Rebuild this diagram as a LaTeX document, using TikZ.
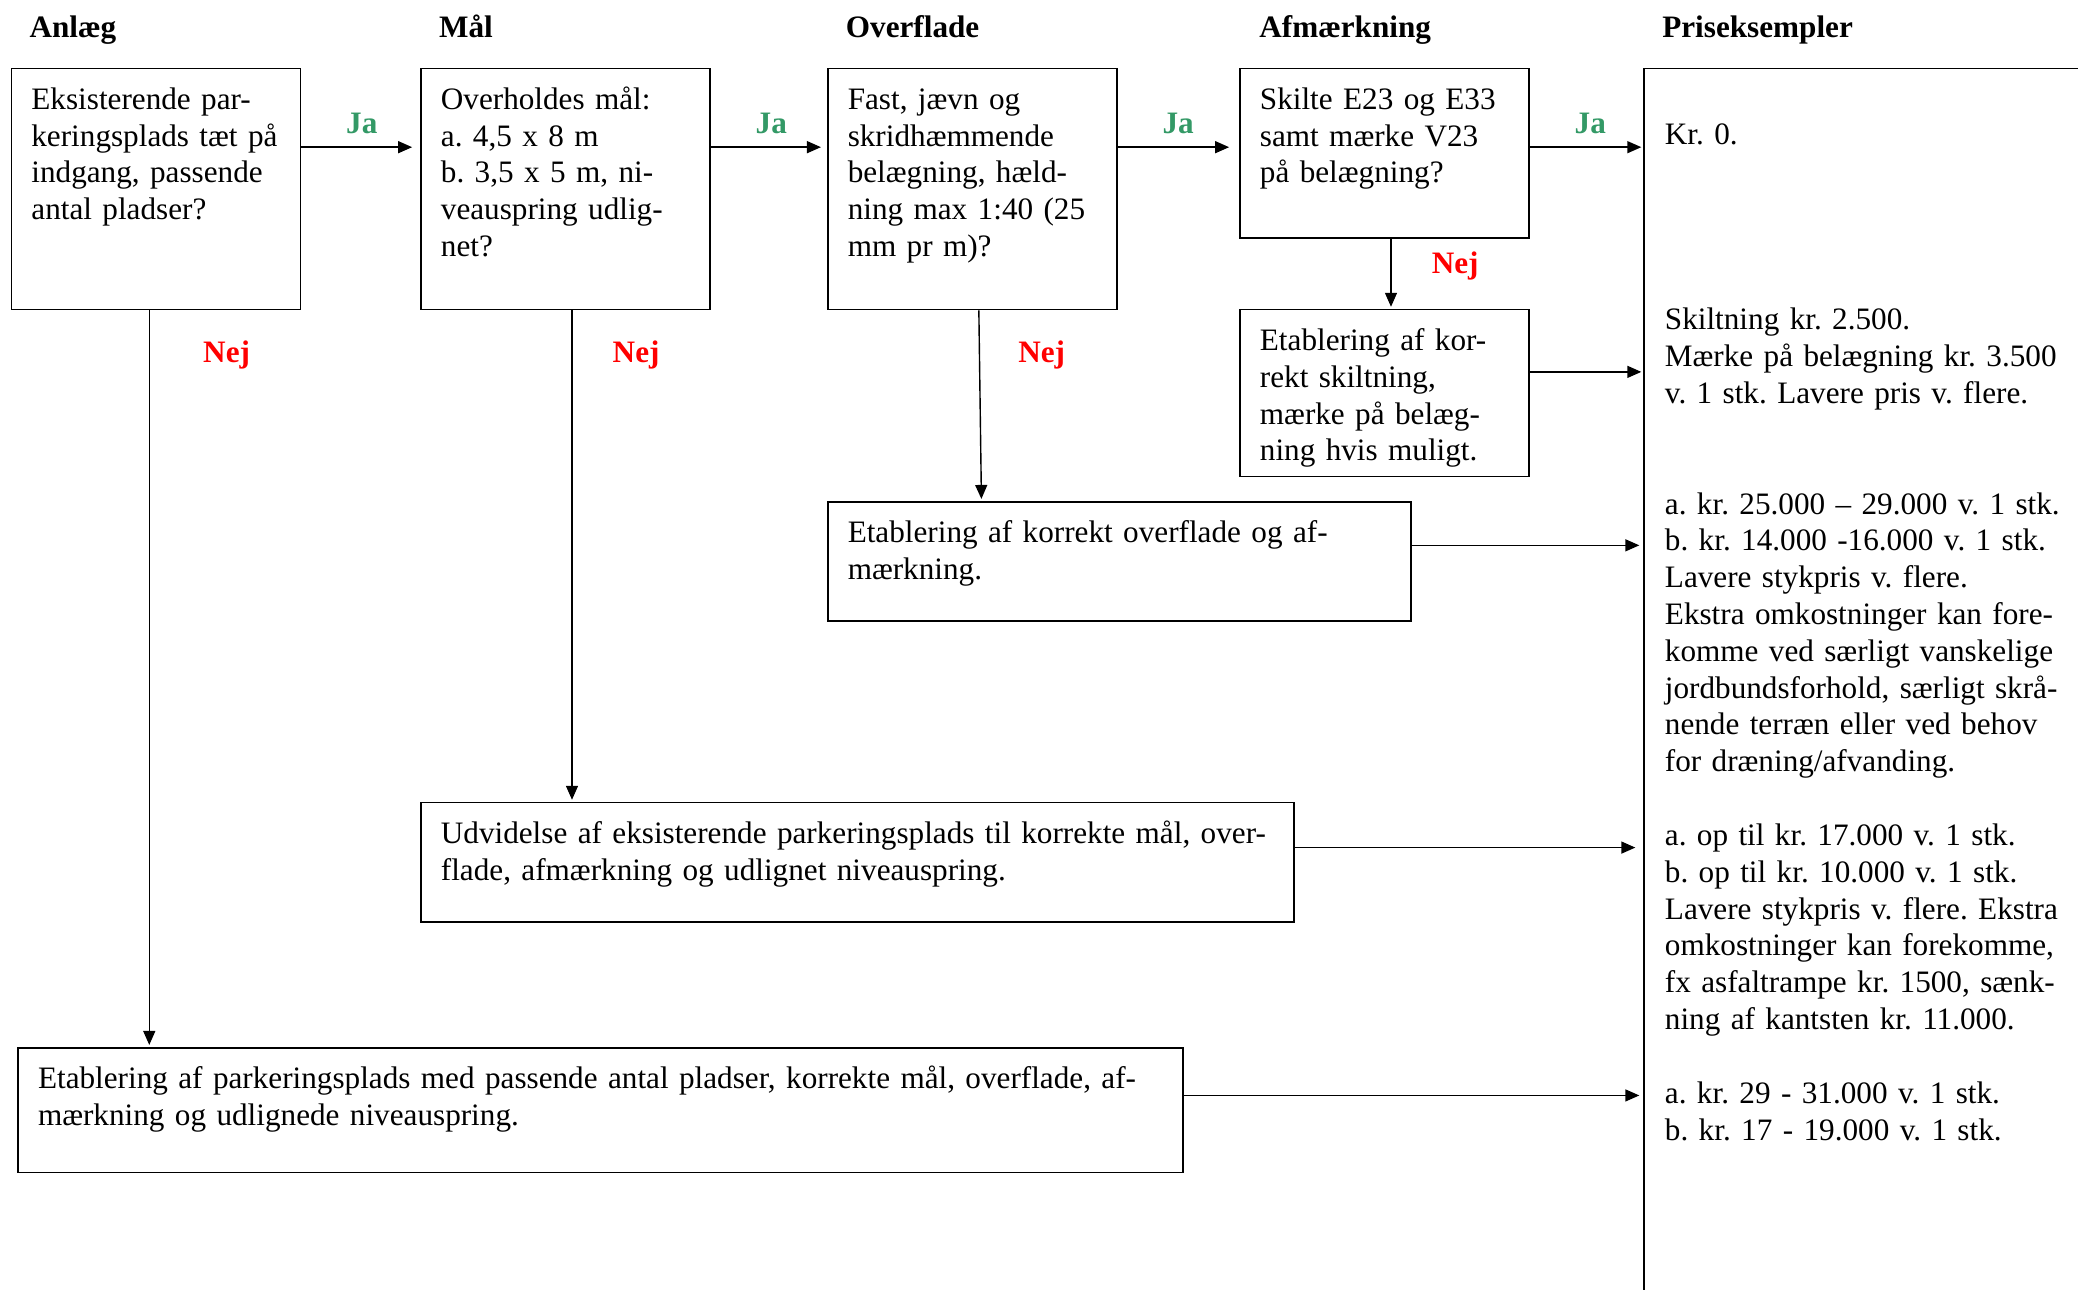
\documentclass[tikz,border=0pt]{standalone}
\usepackage{fontspec}
\setmainfont{Liberation Serif}
\usetikzlibrary{arrows.meta}
\definecolor{jagreen}{RGB}{51,153,102}
\definecolor{nejred}{RGB}{255,0,0}
\frenchspacing
\newcommand{\stor}{\fontsize{15.6}{18.4}\selectfont}

\tikzset{
  boks/.style={draw, line width=0.8pt, anchor=north west, align=left, font=\stor, inner xsep=10pt, inner ysep=8.5pt, text height=12pt},
  pil/.style={-{Triangle[length=7pt,width=6pt]}, line width=0.7pt, shorten >=1pt},
  ja/.style={font=\stor\bfseries, text=jagreen},
  nej/.style={font=\stor\bfseries, text=nejred},
  titel/.style={font=\stor\bfseries, anchor=base west, inner sep=0pt},
  pris/.style={anchor=base west, align=left, font=\stor, inner sep=0pt, text width=215pt}
}

\begin{document}
\begin{tikzpicture}[x=0.6627pt, y=-0.6627pt]
\useasboundingbox (0,0) rectangle (1568,973);

% overskrifter
\node[titel] (tanlaeg) at (22,28) {Anlæg};
\node[titel] (tmaal) at (331,28) {Mål};
\node[titel] (toverflade) at (638,28) {Overflade};
\node[titel] (tafm) at (950,28) {Afmærkning};
\node[titel] (tpris) at (1254,28) {Priseksempler};

% spoergsmaal
\node[boks, text width=124.5pt, text depth=91.6pt] (anlaeg) at (8,51) {Eksisterende par-\\keringsplads tæt på\\indgang, passende\\antal pladser?};
\node[boks, text width=124.5pt, text depth=91.6pt] (maal) at (317,51) {Overholdes mål:\\a. 4,5 x 8 m\\b. 3,5 x 5 m, ni-\\veauspring udlig-\\net?};
\node[boks, text width=124.5pt, text depth=91.6pt] (overflade) at (624,51) {Fast, jævn og\\skridhæmmende\\belægning, hæld-\\ning max 1:40 (25\\mm pr m)?};
\node[boks, text width=124.5pt, text depth=55.8pt] (afm) at (935,51) {Skilte E23 og E33\\samt mærke V23\\på belægning?};

% tiltag
\node[boks, text width=124.5pt, text depth=54.5pt] (afm2) at (935,233) {Etablering af kor-\\rekt skiltning,\\mærke på belæg-\\ning hvis muligt.};
\node[boks, text width=271.6pt, text depth=30.6pt] (overflade2) at (624,378) {Etablering af korrekt overflade og af-\\mærkning.};
\node[boks, text width=416.7pt, text depth=30.6pt] (maal2) at (317,605) {Udvidelse af eksisterende parkeringsplads til korrekte mål, over-\\flade, afmærkning og udlignet niveauspring.};
\node[boks, text width=562.5pt, text depth=33.3pt] (anlaeg2) at (13,790) {Etablering af parkeringsplads med passende antal pladser, korrekte mål, overflade, af-\\mærkning og udlignede niveauspring.};

% priser
\node[draw, line width=0.8pt, anchor=north west, minimum width=240pt, minimum height=630pt] (prisboks) at (1240,51) {};
\node[pris] (p1) at (1256,109) {Kr. 0.};
\node[pris] (p2) at (1256,249) {Skiltning kr. 2.500.\\Mærke på belægning kr. 3.500\\v. 1 stk. Lavere pris v. flere.};
\node[pris] (p3) at (1256,388) {a. kr. 25.000 – 29.000 v. 1 stk.\\b. kr. 14.000 -16.000 v. 1 stk.\\Lavere stykpris v. flere.\\Ekstra omkostninger kan fore-\\komme ved særligt vanskelige\\jordbundsforhold, særligt skrå-\\nende terræn eller ved behov\\for dræning/afvanding.};
\node[pris] (p4) at (1256,638) {a. op til kr. 17.000 v. 1 stk.\\b. op til kr. 10.000 v. 1 stk.\\Lavere stykpris v. flere. Ekstra\\omkostninger kan forekomme,\\fx asfaltrampe kr. 1500, sænk-\\ning af kantsten kr. 11.000.};
\node[pris] (p5) at (1256,833) {a. kr. 29 - 31.000 v. 1 stk.\\b. kr. 17 - 19.000 v. 1 stk.};

% ja
\draw[pil, shorten >=4pt] ([yshift=-39.8pt]anlaeg.north east) -- ([yshift=-39.8pt]maal.north west);
\draw[pil, shorten >=3pt] ([yshift=-39.8pt]maal.north east) -- ([yshift=-39.8pt]overflade.north west);
\draw[pil, shorten >=5pt] ([yshift=-39.8pt]overflade.north east) -- ([yshift=-39.8pt]afm.north west);
\draw[pil] ([yshift=-39.8pt]afm.north east) -- ([yshift=-39.8pt]prisboks.north west);
\node[ja] (ja1) at (273,93) {Ja};
\node[ja] (ja2) at (582,93) {Ja};
\node[ja] (ja3) at (889,93) {Ja};
\node[ja] (ja4) at (1200,93) {Ja};

% nej
\draw[pil] ([xshift=-3.3pt]anlaeg.south) -- ([xshift=-3.3pt]anlaeg.south |- anlaeg2.north);
\draw[pil] ([xshift=3.3pt]maal.south) -- ([xshift=3.3pt]maal.south |- maal2.north);
\draw[pil] ([xshift=3.3pt]overflade.south) -- ([xshift=4.6pt]overflade.south |- overflade2.north);
\draw[pil] ([xshift=3.3pt]afm.south) -- ([xshift=3.3pt]afm.south |- afm2.north);
\node[nej] (nej1) at (171,268) {Nej};
\node[nej] (nej2) at (480,268) {Nej};
\node[nej] (nej3) at (786,268) {Nej};
\node[nej] (nej4) at (1098,201) {Nej};

% til priser
\draw[pil] ([yshift=10.6pt]afm2.east) -- ([yshift=10.6pt]afm2.east -| prisboks.west);
\draw[pil, shorten >=2pt] ([yshift=8pt]overflade2.east) -- ([yshift=8pt]overflade2.east -| prisboks.west);
\draw[pil, shorten >=4pt] ([yshift=7.3pt]maal2.east) -- ([yshift=7.3pt]maal2.east -| prisboks.west);
\draw[pil, shorten >=2pt] ([yshift=7.3pt]anlaeg2.east) -- ([yshift=7.3pt]anlaeg2.east -| prisboks.west);
\end{tikzpicture}
\end{document}
